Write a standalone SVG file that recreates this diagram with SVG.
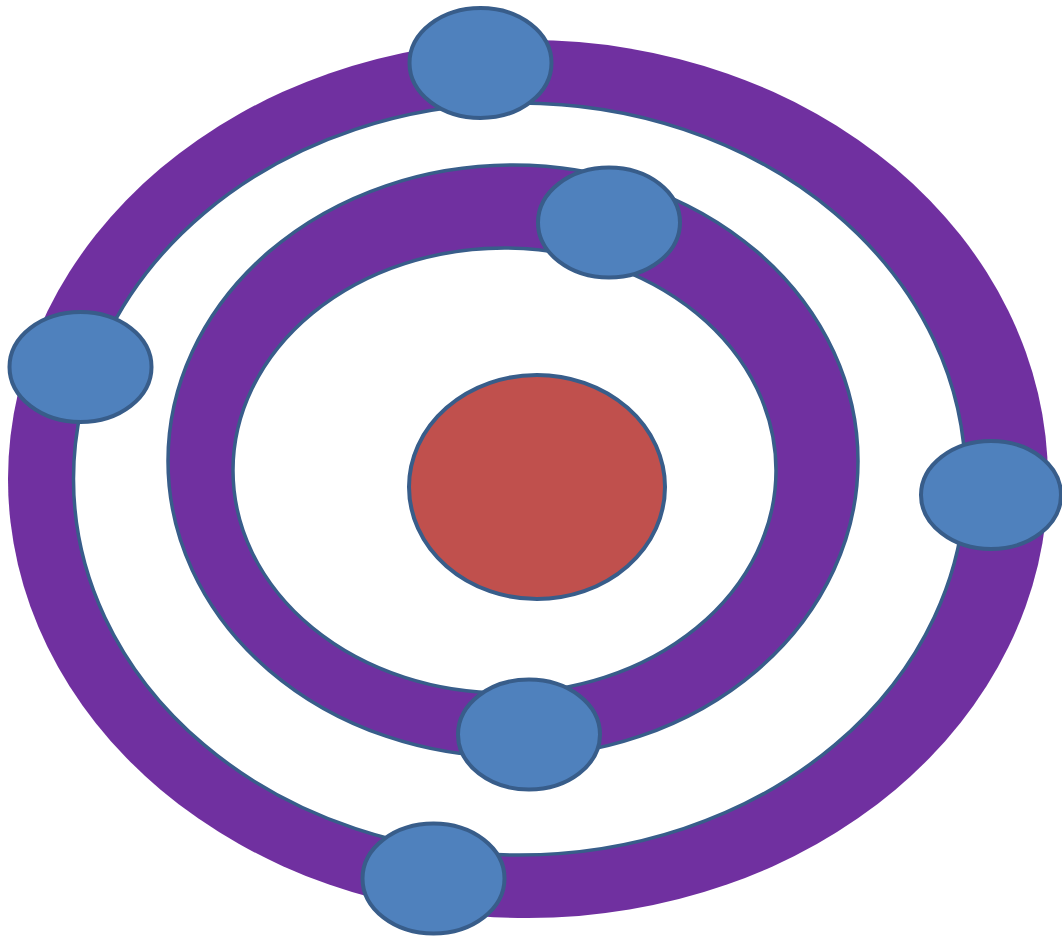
<svg xmlns="http://www.w3.org/2000/svg" width="1062" height="938" viewBox="0 0 1062 938">
<style>
.ring{fill:#7030a0}
.ringo{fill:#7030a0;stroke:#385d8a;stroke-width:3.5}
.hole{fill:#ffffff;stroke:#385d8a;stroke-width:3.5}
.electron{fill:#4f81bd;stroke:#385d8a;stroke-width:4}
.nucleus{fill:#c0504d;stroke:#385d8a;stroke-width:4}
</style>
<rect width="1062" height="938" fill="#ffffff"/>
<g id="outer-ring">
<ellipse class="ring" cx="528" cy="479" rx="520" ry="439"/>
<ellipse class="hole" cx="519.5" cy="479" rx="446" ry="376"/>
</g>
<g id="inner-ring">
<ellipse class="ringo" cx="513" cy="461" rx="345" ry="296"/>
<ellipse class="hole" cx="504.5" cy="470.5" rx="271.5" ry="222.5"/>
</g>
<g id="nucleus">
<ellipse class="nucleus" cx="537" cy="487" rx="128" ry="112"/>
</g>
<g id="electron-1"><ellipse class="electron" cx="480.5" cy="63" rx="71" ry="55"/></g>
<g id="electron-2"><ellipse class="electron" cx="609" cy="222.5" rx="71" ry="55"/></g>
<g id="electron-3"><ellipse class="electron" cx="80.5" cy="367" rx="71" ry="55"/></g>
<g id="electron-4"><ellipse class="electron" cx="991" cy="495" rx="70" ry="54"/></g>
<g id="electron-5"><ellipse class="electron" cx="529" cy="734.5" rx="71" ry="55"/></g>
<g id="electron-6"><ellipse class="electron" cx="433.5" cy="878.5" rx="71" ry="55"/></g>
<g id="connectors"></g>
</svg>
